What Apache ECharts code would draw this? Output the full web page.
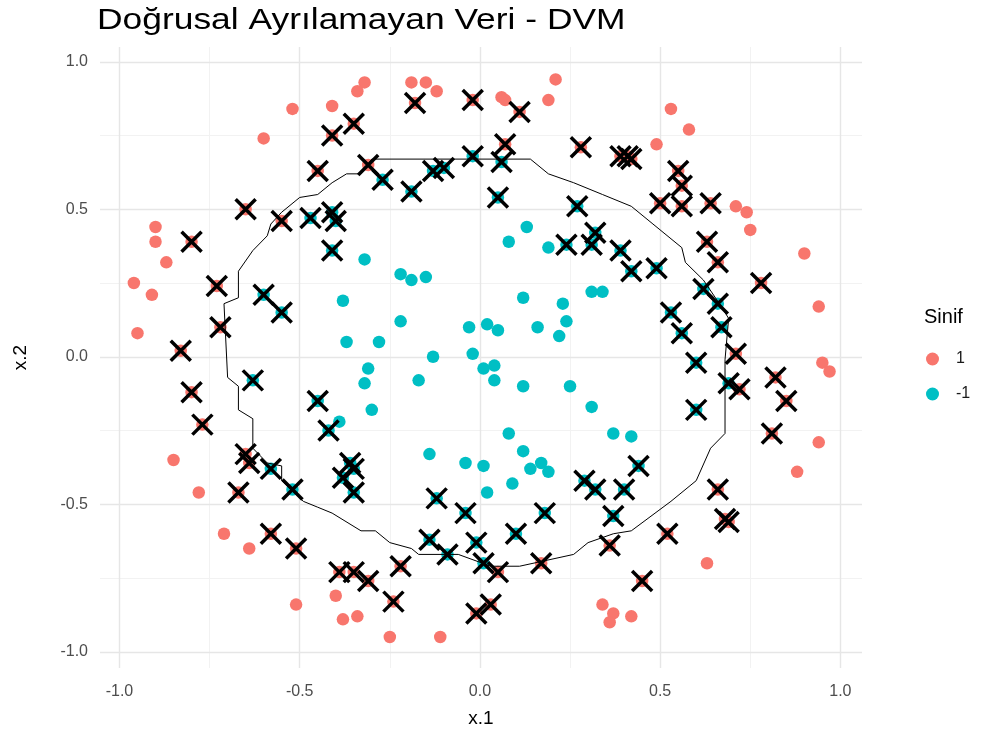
<!DOCTYPE html>
<html>
<head>
<meta charset="utf-8">
<script src="https://cdn.jsdelivr.net/npm/echarts@6/dist/echarts.min.js"></script>
<style>
html,body{margin:0;padding:0;background:#fff;}
#chart{width:991px;height:747px;}
</style>
</head>
<body>
<div id="chart"></div>
<script>
// Class "1" points that are not support vectors
const class1Free = [
  [-0.32,0.93],[-0.34,0.90],[-0.52,0.84],[-0.41,0.85],[-0.60,0.74],[-0.19,0.93],[-0.15,0.93],[-0.12,0.90],
  [-0.90,0.44],[-0.90,0.39],[-0.87,0.32],[-0.96,0.25],[-0.91,0.21],[-0.95,0.08],[-0.85,-0.35],[-0.78,-0.46],
  [-0.71,-0.60],[-0.64,-0.65],[-0.51,-0.84],[-0.40,-0.81],[-0.38,-0.89],[-0.34,-0.88],[-0.25,-0.95],[-0.11,-0.95],
  [0.34,-0.84],[0.37,-0.87],[0.36,-0.90],[0.42,-0.88],[0.63,-0.70],[0.88,-0.39],[0.94,-0.29],[0.95,-0.02],
  [0.97,-0.05],[0.94,0.17],[0.90,0.35],[0.75,0.43],[0.74,0.49],[0.71,0.51],[0.58,0.77],[0.53,0.84],
  [0.49,0.72],[0.21,0.94],[0.06,0.88],[0.07,0.87],[0.19,0.87]
];
// Class "1" support vectors
const class1SV = [
  [-0.18,0.86],[-0.02,0.87],[0.11,0.83],[-0.35,0.79],[-0.41,0.75],[-0.45,0.63],[-0.31,0.65],[-0.65,0.50],
  [-0.55,0.46],[-0.80,0.39],[-0.73,0.24],[-0.72,0.10],[-0.83,0.02],[-0.80,-0.12],[-0.77,-0.23],[-0.65,-0.33],
  [-0.64,-0.36],[-0.67,-0.46],[-0.58,-0.60],[-0.51,-0.65],[-0.39,-0.73],[-0.35,-0.73],[-0.31,-0.76],[-0.24,-0.83],
  [-0.22,-0.71],[-0.01,-0.87],[0.03,-0.84],[0.05,-0.73],[0.17,-0.70],[0.36,-0.64],[0.45,-0.76],[0.52,-0.60],
  [0.66,-0.45],[0.68,-0.55],[0.69,-0.56],[0.81,-0.26],[0.85,-0.15],[0.82,-0.07],[0.72,-0.11],[0.71,0.01],
  [0.78,0.25],[0.66,0.32],[0.63,0.39],[0.64,0.52],[0.56,0.51],[0.56,0.58],[0.55,0.63],[0.50,0.52],
  [0.39,0.68],[0.41,0.68],[0.42,0.67],[0.28,0.71],[0.07,0.72]
];
// Class "-1" points that are not support vectors
const classM1Free = [
  [-0.32,0.33],[-0.22,0.28],[-0.19,0.26],[-0.15,0.27],[-0.38,0.19],[-0.22,0.12],[-0.03,0.10],[0.02,0.11],
  [0.05,0.09],[-0.37,0.05],[-0.28,0.05],[-0.13,0.00],[-0.02,0.01],[-0.31,-0.04],[-0.32,-0.09],[-0.17,-0.08],
  [0.01,-0.04],[0.04,-0.03],[0.04,-0.08],[0.12,-0.10],[0.25,-0.10],[0.31,-0.17],[0.08,-0.26],[0.12,-0.32],
  [-0.30,-0.18],[-0.14,-0.33],[-0.04,-0.36],[0.01,-0.37],[0.02,-0.46],[0.09,-0.43],[0.14,-0.38],[0.17,-0.36],
  [0.19,-0.39],[0.37,-0.26],[0.42,-0.27],[-0.39,-0.22],[0.13,0.44],[0.08,0.39],[0.19,0.37],[0.12,0.20],
  [0.23,0.18],[0.31,0.22],[0.34,0.22],[0.16,0.10],[0.24,0.12],[0.22,0.07]
];
// Class "-1" support vectors
const classM1SV = [
  [-0.27,0.60],[-0.19,0.56],[-0.13,0.63],[-0.10,0.64],[-0.02,0.68],[-0.47,0.47],[-0.41,0.49],[-0.40,0.46],
  [-0.41,0.36],[-0.60,0.21],[-0.55,0.15],[-0.63,-0.08],[-0.45,-0.15],[-0.42,-0.25],[-0.58,-0.38],[-0.52,-0.45],
  [-0.36,-0.36],[-0.38,-0.41],[-0.35,-0.38],[-0.35,-0.46],[-0.12,-0.48],[-0.04,-0.53],[-0.14,-0.62],[-0.09,-0.67],
  [-0.01,-0.63],[0.01,-0.70],[0.10,-0.60],[0.18,-0.53],[0.37,-0.54],[0.29,-0.42],[0.32,-0.45],[0.40,-0.45],
  [0.44,-0.37],[0.60,-0.02],[0.60,-0.18],[0.69,-0.09],[0.56,0.08],[0.67,0.10],[0.53,0.15],[0.62,0.23],
  [0.66,0.18],[0.49,0.30],[0.42,0.29],[0.39,0.36],[0.32,0.42],[0.31,0.38],[0.24,0.38],[0.27,0.51],
  [0.06,0.66],[0.05,0.54]
];
// Decision boundary (contour)
const boundary = [
  [-0.30,0.67],[0.14,0.67],[0.19,0.62],[0.26,0.59],[0.34,0.55],[0.42,0.51],[0.48,0.45],[0.56,0.37],
  [0.57,0.32],[0.62,0.26],[0.67,0.17],[0.69,0.13],[0.68,-0.01],[0.68,-0.26],[0.64,-0.31],[0.60,-0.42],
  [0.53,-0.49],[0.42,-0.59],[0.37,-0.60],[0.30,-0.63],[0.26,-0.67],[0.11,-0.71],[0.03,-0.71],[-0.06,-0.67],
  [-0.17,-0.67],[-0.19,-0.65],[-0.25,-0.63],[-0.29,-0.59],[-0.33,-0.59],[-0.41,-0.53],[-0.45,-0.51],[-0.49,-0.49],
  [-0.55,-0.42],[-0.55,-0.37],[-0.59,-0.36],[-0.63,-0.31],[-0.63,-0.21],[-0.67,-0.18],[-0.67,-0.10],[-0.70,-0.07],
  [-0.71,0.18],[-0.67,0.20],[-0.67,0.29],[-0.63,0.36],[-0.59,0.41],[-0.58,0.45],[-0.55,0.49],[-0.50,0.54],
  [-0.45,0.55],[-0.41,0.59],[-0.37,0.62],[-0.33,0.62],[-0.30,0.67]
];
const majorTicks = [-1, -0.5, 0, 0.5, 1];
const minorTicks = [-0.75, -0.25, 0.25, 0.75];
const classNames = ['1', '-1'];
const titleText = 'Doğrusal Ayrılamayan Veri - DVM';
const legendTitle = 'Sinif';
const xName = 'x.1';
const yName = 'x.2';

const FONT = "'Liberation Sans', Arial, sans-serif";
const RED = '#F8766D', TEAL = '#00BFC4';

const chart = echarts.init(document.getElementById('chart'), null, {renderer: 'canvas'});

function isMajor(v) {
  return majorTicks.some(t => Math.abs(t - v) < 1e-6);
}
function fmt(v) {
  return isMajor(v) ? v.toFixed(1) : '';
}

const minorStyle = {color: '#F2F2F2', width: 1, type: 'solid'};
const majorStyle = {color: '#E6E6E6', width: 1.4, type: 'solid'};
const gridLines = []
  .concat(minorTicks.map(v => ({xAxis: v, lineStyle: minorStyle})))
  .concat(minorTicks.map(v => ({yAxis: v, lineStyle: minorStyle})))
  .concat(majorTicks.map(v => ({xAxis: v, lineStyle: majorStyle})))
  .concat(majorTicks.map(v => ({yAxis: v, lineStyle: majorStyle})));

const option = {
  animation: false,
  backgroundColor: '#ffffff',
  textStyle: {fontFamily: FONT},
  graphic: [
    {type: 'text', x: 97, y: 6, scaleX: 1.18, silent: true,
     style: {text: titleText, fill: '#000', font: "normal 30px 'Liberation Sans', Arial, sans-serif",
             textAlign: 'left', textVerticalAlign: 'top'}}
  ],
  title: [
    {text: legendTitle, left: 919, top: 302,
     textStyle: {fontFamily: FONT, fontSize: 20, fontWeight: 'normal', color: '#000'}}
  ],
  legend: {
    data: classNames,
    orient: 'vertical',
    left: 921, top: 346,
    itemWidth: 13, itemHeight: 13, itemGap: 19,
    icon: 'circle',
    textStyle: {fontFamily: FONT, fontSize: 16, color: '#1A1A1A', padding: [0, 0, 0, 12]}
  },
  grid: {left: 100, right: 129, top: 47, bottom: 79, containLabel: false},
  xAxis: {
    type: 'value', min: -1.054, max: 1.06,
    name: xName, nameLocation: 'middle', nameGap: 41,
    nameTextStyle: {fontFamily: FONT, fontSize: 19, color: '#000'},
    axisLine: {show: false}, axisTick: {show: false}, splitLine: {show: false},
    axisLabel: {formatter: fmt, showMinLabel: false, showMaxLabel: false,
                color: '#4D4D4D', fontSize: 16, margin: 16, fontFamily: FONT}
  },
  yAxis: {
    type: 'value', min: -1.055, max: 1.05,
    name: yName, nameLocation: 'middle', nameGap: 70, nameRotate: 90,
    nameTextStyle: {fontFamily: FONT, fontSize: 19, color: '#000'},
    axisLine: {show: false}, axisTick: {show: false}, splitLine: {show: false},
    axisLabel: {formatter: fmt, showMinLabel: false, showMaxLabel: false,
                color: '#4D4D4D', fontSize: 16, margin: 12, fontFamily: FONT}
  },
  series: [
    {
      name: 'grid', type: 'scatter', data: [], z: 0, silent: true,
      markLine: {silent: true, symbol: 'none', label: {show: false}, z: 0,
                 animation: false, data: gridLines}
    },
    {
      name: classNames[0], type: 'scatter', z: 2,
      data: class1Free.concat(class1SV),
      symbol: 'circle', symbolSize: 12.5,
      itemStyle: {color: RED, opacity: 1}
    },
    {
      name: classNames[1], type: 'scatter', z: 2,
      data: classM1Free.concat(classM1SV),
      symbol: 'circle', symbolSize: 12.5,
      itemStyle: {color: TEAL, opacity: 1}
    },
    {
      name: 'boundary', type: 'line', z: 3,
      data: boundary, showSymbol: false, symbol: 'none', smooth: false,
      lineStyle: {color: '#000', width: 1}
    },
    {
      name: 'sv', type: 'scatter', z: 4,
      data: class1SV.concat(classM1SV),
      symbol: 'path://M0,0L10,10M10,0L0,10', symbolSize: 20,
      itemStyle: {color: 'rgba(0,0,0,0)', borderColor: '#000', borderWidth: 3.5, opacity: 1}
    }
  ]
};
chart.setOption(option);
</script>
</body>
</html>
